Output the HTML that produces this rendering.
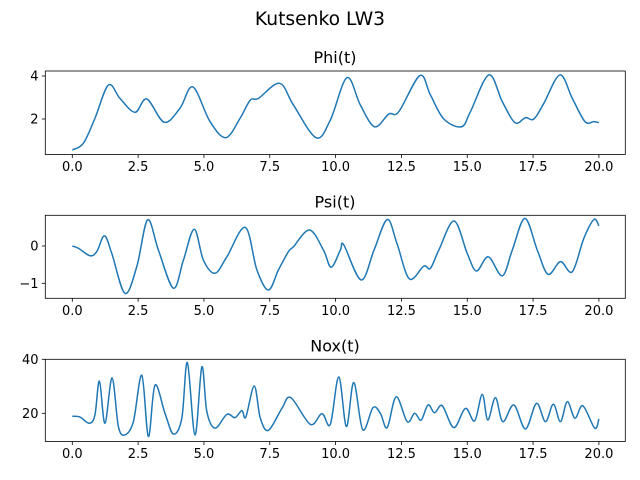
<!DOCTYPE html>
<html><head><meta charset="utf-8"><style>
body{margin:0;background:#fff;}
svg{display:block;font-family:"DejaVu Sans","Liberation Sans",sans-serif;}
</style></head><body>
<svg id="chart" width="640" height="480">
<text x="320" y="25" text-anchor="middle" font-size="18.7">Kutsenko LW3</text>
</svg>
<script>
const phiT=[0,0.42,0.86,1.37,1.81,2.38,2.83,3.49,4.09,4.58,5.23,5.83,6.37,6.76,7.07,7.87,8.40,9.26,9.80,10.43,10.94,11.48,12.02,12.40,13.20,13.60,14.11,14.78,15.12,15.82,16.33,16.81,17.21,17.53,17.91,18.52,18.99,19.47,19.81,20];
const phiV=[0.56,0.87,2.03,3.58,2.96,2.31,2.93,1.85,2.5,3.49,1.88,1.13,2.03,2.88,2.96,3.66,2.65,1.13,1.95,3.92,2.65,1.64,2.23,2.34,4.02,3.12,2.0,1.64,2.34,4.05,2.81,1.83,2.06,2.0,2.73,4.05,2.96,1.88,1.88,1.83];
const psiT=[0,0.23,0.67,0.93,1.22,1.50,2.0,2.45,2.86,3.27,3.84,4.22,4.63,4.98,5.42,5.87,6.57,7.01,7.45,7.83,8.21,8.4,9.01,9.54,9.83,10.18,10.31,10.97,11.46,11.96,12.33,12.80,13.35,13.60,13.92,14.50,15.0,15.35,15.80,16.33,16.71,17.19,17.66,18.07,18.54,18.99,19.43,19.81,20];
const psiV=[0,-0.06,-0.26,-0.15,0.27,-0.2,-1.27,-0.55,0.70,-0.11,-1.13,-0.38,0.45,-0.38,-0.73,-0.29,0.5,-0.64,-1.18,-0.64,-0.15,-0.02,0.43,-0.11,-0.57,-0.11,0.03,-0.91,-0.11,0.71,0.07,-0.88,-0.54,-0.6,-0.11,0.67,-0.2,-0.67,-0.29,-0.8,-0.11,0.74,-0.11,-0.76,-0.42,-0.69,0.21,0.71,0.54];
const noxT=[0,0.29,0.65,0.86,1.03,1.24,1.51,1.75,2.0,2.32,2.64,2.89,3.14,3.52,3.84,4.16,4.37,4.66,4.92,5.11,5.42,5.87,6.18,6.44,6.59,6.91,7.14,7.45,7.96,8.30,9.04,9.48,9.80,10.12,10.41,10.69,11.03,11.42,11.70,11.96,12.30,12.72,13.0,13.25,13.51,13.76,14.05,14.49,14.93,15.28,15.57,15.78,16.07,16.35,16.77,17.21,17.63,17.97,18.27,18.54,18.80,19.09,19.39,19.84,20];
const noxV=[18.9,18.6,16.3,19.4,31.9,16.3,33.1,15.1,12.0,16.9,34.1,11.4,30.4,20,12.3,18.2,38.8,12.0,37.2,20.6,14.5,19.6,18.4,21.0,18.6,30.1,18.2,13.7,21.8,25.8,15.9,19.9,15.9,33.5,15.1,31.4,13.9,22.1,20,14.7,26.1,16.9,20,17.5,23.1,20.2,22.8,14.7,21.8,17.2,27,17.5,25.8,16.9,23.1,14.2,23.7,16.9,23.4,16.9,24.3,18.2,22.8,14.5,17.9];
const xTicks=[0,2.5,5,7.5,10,12.5,15,17.5,20];
const xTickLabels=["0.0","2.5","5.0","7.5","10.0","12.5","15.0","17.5","20.0"];
const phiTicks=[2,4], psiTicks=[-1,0], noxTicks=[20,40];

const NS="http://www.w3.org/2000/svg";
const svg=document.getElementById('chart');
function el(tag,attrs,parent){const e=document.createElementNS(NS,tag);for(const k in attrs)e.setAttribute(k,attrs[k]);(parent||svg).appendChild(e);return e;}
const xs=t=>72.3+t*26.33;
const panels=[
 {name:'phi',title:'Phi(t)',top:71,bot:154.5,T:phiT,V:phiV,ticks:phiTicks,y:v=>119-(v-2)*21.5},
 {name:'psi',title:'Psi(t)',top:215.3,bot:298.3,T:psiT,V:psiV,ticks:psiTicks,y:v=>246-v*37.3},
 {name:'nox',title:'Nox(t)',top:359.3,bot:441.5,T:noxT,V:noxV,ticks:noxTicks,y:v=>413.3-(v-20)*2.7}
];
function smooth(pts){let d='M'+pts[0][0].toFixed(2)+','+pts[0][1].toFixed(2);
 for(let i=0;i<pts.length-1;i++){const p0=pts[Math.max(0,i-1)],p1=pts[i],p2=pts[i+1],p3=pts[Math.min(pts.length-1,i+2)];
  const c1=[p1[0]+(p2[0]-p0[0])/6,p1[1]+(p2[1]-p0[1])/6],c2=[p2[0]-(p3[0]-p1[0])/6,p2[1]-(p3[1]-p1[1])/6];
  d+='C'+c1[0].toFixed(2)+','+c1[1].toFixed(2)+' '+c2[0].toFixed(2)+','+c2[1].toFixed(2)+' '+p2[0].toFixed(2)+','+p2[1].toFixed(2);}
 return d;}
panels.forEach(p=>{
 const g=el('g',{});
 
 
 const t=el('text',{x:335,y:p.top-8,'text-anchor':'middle','font-size':16},g);t.textContent=p.title;
 
 
 const pts=p.T.map((tt,i)=>[xs(tt),p.y(p.V[i])]);
 const line=el('path',{d:smooth(pts),fill:'none',stroke:'#1f77b4','stroke-width':1.5,'stroke-linejoin':'round'},g);
 
 
 const r=el('rect',{x:45.3,y:p.top,width:580,height:p.bot-p.top,fill:'none',stroke:'#000','stroke-width':0.8},g);
 
 
 xTicks.forEach((v,i)=>{const x=xs(v);
  el('line',{x1:x,x2:x,y1:p.bot,y2:p.bot+3.5,stroke:'#000','stroke-width':0.8},g);
  const l=el('text',{x:x,y:p.bot+16.5,'text-anchor':'middle','font-size':13},g);l.textContent=xTickLabels[i];
  
  });
 p.ticks.forEach(v=>{const y=p.y(v);
  el('line',{x1:45.3,x2:41.8,y1:y,y2:y,stroke:'#000','stroke-width':0.8},g);
  const l=el('text',{x:38.5,y:y+4.7,'text-anchor':'end','font-size':13},g);l.textContent=v<0?'\u2212'+Math.abs(v):String(v);
  
  });
});
</script>
</body></html>
